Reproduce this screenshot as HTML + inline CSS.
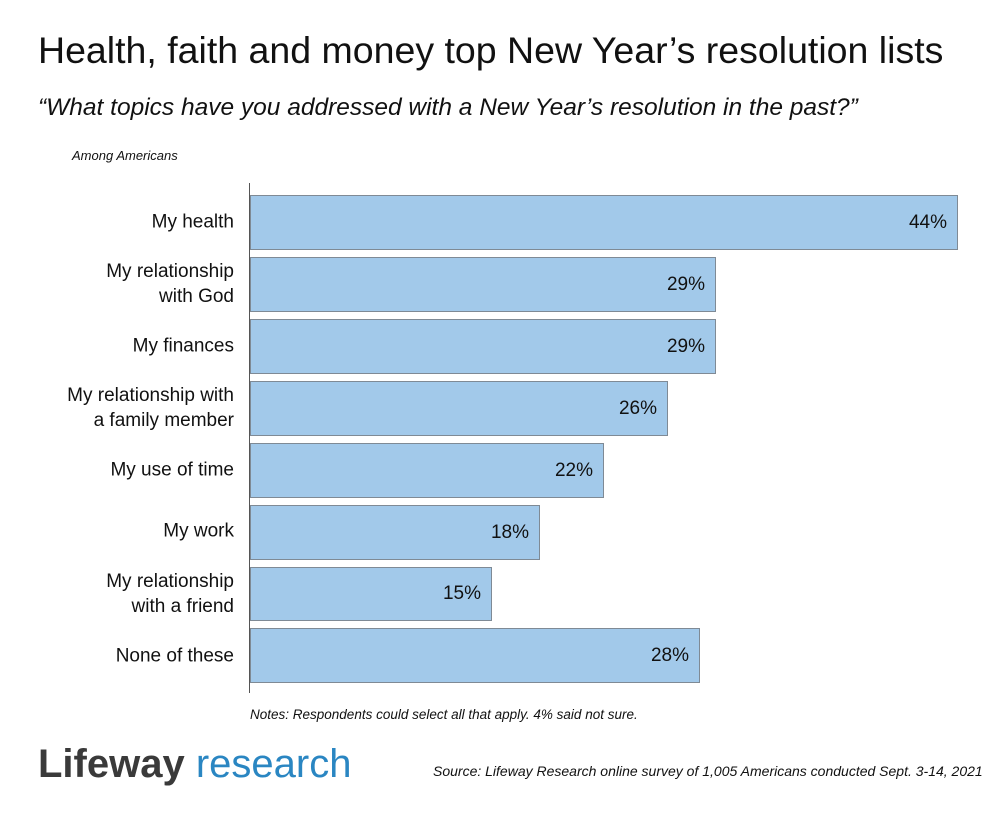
<!DOCTYPE html>
<html><head><meta charset="utf-8"><style>
body{margin:0;width:1000px;height:825px;background:#fff;position:relative;font-family:"Liberation Sans",sans-serif;color:#111;overflow:hidden}
.a{position:absolute;white-space:nowrap}
.bar{position:absolute;left:250px;background:#a2c9ea;border:1.5px solid #7f8a95;box-sizing:border-box}
.v{position:absolute;right:10px;top:50%;transform:translateY(-50%);font-size:19px}
.l{position:absolute;right:766px;text-align:right;font-size:19px;line-height:25px;transform:translateY(-50%)}
</style></head><body>
<div class="a" style="left:38px;top:29px;font-size:37.5px">Health, faith and money top New Year’s resolution lists</div>
<div class="a" style="left:38px;top:94px;font-size:24.5px;font-style:italic">“What topics have you addressed with a New Year’s resolution in the past?”</div>
<div class="a" style="left:72px;top:148px;font-size:13px;font-style:italic">Among Americans</div>
<div class="a" style="left:249px;top:183px;width:1px;height:510px;background:#555"></div>

<div class="bar" style="top:195px;height:55px;width:708px"><span class="v">44%</span></div>
<div class="bar" style="top:257px;height:55px;width:466px"><span class="v">29%</span></div>
<div class="bar" style="top:319px;height:55px;width:466px"><span class="v">29%</span></div>
<div class="bar" style="top:381px;height:55px;width:418px"><span class="v">26%</span></div>
<div class="bar" style="top:443px;height:55px;width:354px"><span class="v">22%</span></div>
<div class="bar" style="top:505px;height:55px;width:290px"><span class="v">18%</span></div>
<div class="bar" style="top:567px;height:54px;width:242px"><span class="v">15%</span></div>
<div class="bar" style="top:628px;height:55px;width:450px"><span class="v">28%</span></div>

<div class="l" style="top:222px">My health</div>
<div class="l" style="top:284px">My relationship<br>with God</div>
<div class="l" style="top:346px">My finances</div>
<div class="l" style="top:408px">My relationship with<br>a family member</div>
<div class="l" style="top:470px">My use of time</div>
<div class="l" style="top:531px">My work</div>
<div class="l" style="top:594px">My relationship<br>with a friend</div>
<div class="l" style="top:656px">None of these</div>

<div class="a" style="left:250px;top:707px;font-size:13.5px;font-style:italic">Notes: Respondents could select all that apply. 4% said not sure.</div>
<div class="a" style="left:38px;top:742px;font-size:40px"><span style="color:#3a3a3a;font-weight:bold">Lifeway</span> <span style="color:#2a86c2">research</span></div>
<div class="a" style="left:433px;top:763px;font-size:14px;font-style:italic">Source: Lifeway Research online survey of 1,005 Americans conducted Sept. 3-14, 2021</div>
</body></html>
